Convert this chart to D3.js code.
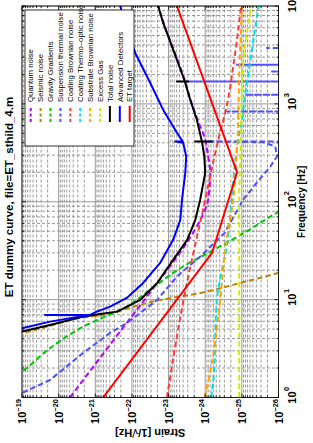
<!DOCTYPE html>
<html><head><meta charset="utf-8">
<script src="https://cdn.jsdelivr.net/npm/d3@7"></script>
<style>body{margin:0;background:#fff}svg{display:block}</style>
</head><body>
<svg id="c" width="313" height="443"></svg>
<script>
// ---- data (frequency [Hz], strain [1/sqrt(Hz)]) ----
const freqTicks = [1, 10, 100, 1000, 10000];
const freqTickExp = ["0", "1", "2", "3", "4"];
const strainTicks = [1e-26, 1e-25, 1e-24, 1e-23, 1e-22, 1e-21, 1e-20, 1e-19];
const strainTickExp = ["\u221226", "\u221225", "\u221224", "\u221223", "\u221222", "\u221221", "\u221220", "\u221219"];

const quantum = [[1,4.9e-21],[5.8,1.38e-22],[10.7,3.9e-23],[20,1.1e-23],[38,3.2e-24],[65,1.37e-24],[105,8.3e-25],[200,7.3e-25],[290,8.3e-25],[430,1.0e-24],[690,1.62e-24],[1100,2.5e-24],[1900,3.9e-24],[3600,7.3e-24],[6750,1.38e-23],[10000,1.9e-23]];
const seismic = [[4.6,8e-20],[5.5,1.4e-20],[6.6,1.9e-21],[6.9,7.4e-22],[8.4,1.0e-22],[9.9,1.7e-23],[11.7,1.37e-24],[14.8,1.1e-25],[18.8,1e-26],[22,2.5e-27]];
const gravity = [[1,1.4e-18],[1.84,1e-19],[3.2,1.7e-20],[5.3,2.1e-21],[8.5,1.38e-22],[12.6,3.2e-23],[21.8,4e-24],[32,6e-25],[50,7.3e-26],[79,1e-26],[100,3e-27]];
const suspension = [[1,1.5e-19],[1.11,1e-19],[1.51,1.72e-20],[2.85,2.15e-21],[4.57,3.94e-22],[5.74,1.38e-22],[9.93,2.05e-23],[17.2,5.93e-24],[27.5,1.37e-24],[47.7,3.0e-25],[105,9.2e-26],[150,4.3e-26],[229,1.67e-26],[290,1.1e-26],[367,1.22e-26],[405,2.6e-26],[413,9e-25],[413,5e-27],[836,5e-27],[836,2.55e-25],[836,5e-27],[1239,5e-27],[1239,8.1e-26],[1239,5e-27],[1694,5e-27],[1694,3.5e-24],[1694,5e-27],[2144,5e-27],[2144,1.5e-26],[2144,5e-27],[2512,5e-27],[2512,1.36e-25],[2512,5e-27],[3721,5e-27],[3721,2.06e-26],[3721,5e-27],[10000,5e-27]];
const coatingBrownian = [[1,1.11e-23],[9.9,3.9e-24],[105,1e-24],[430,4.4e-25],[940,2.6e-25],[2400,1.72e-25],[10000,1.05e-25]];
const coatingThermoOptic = [[1,6.9e-25],[1.58,5.9e-25],[9.9,4.8e-25],[38,2.5e-25],[105,1.9e-25],[268,1.5e-25],[870,9.2e-26],[1640,7.3e-26],[3570,5.3e-26],[10000,3.5e-26]];
const substrateBrownian = [[1,1.03e-24],[2.25,6.6e-25],[7,4.3e-25],[38,2.7e-25],[105,1.72e-25],[340,1.36e-25],[2400,1.16e-25],[10000,9.9e-26]];
const excessGas = [[1,1.18e-25],[105,1.18e-25],[364,1.07e-25],[1640,9.9e-26],[5300,7.3e-26],[10000,5.6e-26]];
const totalNoise = [[4.16,4e-19],[4.71,1e-19],[5.51,1.72e-20],[6.70,2.15e-21],[7.14,7.4e-22],[7.54,2.54e-22],[8.48,1.35e-22],[9.93,5.97e-23],[14.8,2.05e-23],[25.5,7.5e-24],[40.8,3.1e-24],[65,1.87e-24],[105,1.37e-24],[197,1.0e-24],[291,1.06e-24],[413,1.23e-24],[413,1.87e-24],[413,6.6e-25],[413,1.23e-24],[688,1.69e-24],[1102,2.57e-24],[1694,3.6e-24],[1694,5.9e-24],[1694,2.9e-24],[1694,3.6e-24],[1892,4.0e-24],[3573,7.5e-24],[6750,1.41e-23],[10000,1.92e-23]];
const advancedDetectors = [[4.5,4e-19],[5.10,1e-19],[5.96,1.72e-20],[6.81,2.15e-21],[6.98,1.39e-21],[6.98,2.35e-20],[6.98,1.39e-21],[7.54,9.1e-22],[8.48,3.94e-22],[10.4,1.38e-22],[14.8,4.94e-23],[23.7,1.7e-23],[40.8,7.5e-24],[65,4.8e-24],[105,4.3e-24],[197,3.5e-24],[291,3.3e-24],[400,4.0e-24],[413,6.6e-24],[413,4.1e-24],[506,5.9e-24],[871,1.41e-23],[1643,3.18e-23],[2632,5.97e-23],[3325,8.2e-23],[10000,2.1e-22]];
const etTarget = [[1,6.1e-22],[30,6.5e-25],[200,1.35e-25],[10000,5.9e-24]];

const seriesNames = ["Quantum noise","Seismic noise","Gravity Gradients","Suspension thermal noise","Coating Brownian noise","Coating Thermo\u2013optic noise","Substrate Brownian noise","Excess Gas","Total noise","Advanced Detectors","ET target"];
const seriesData = [quantum, seismic, gravity, suspension, coatingBrownian, coatingThermoOptic, substrateBrownian, excessGas, totalNoise, advancedDetectors, etTarget];
const seriesColors = ["#b400ff","#b8860b","#00c800","#5050ff","#ff3c3c","#00e0e0","#ffa500","#ccee00","#000000","#0000ff","#ff0000"];
const seriesDashed = [true,true,true,true,true,true,true,true,false,false,false];
const seriesSmooth = [true,true,true,false,true,true,true,true,false,false,false];

// ---- layout (unrotated frame 443 x 313, then rotated -90deg) ----
const FONT = "'Liberation Sans', Arial, Helvetica, sans-serif";
const svg = d3.select('#c');
svg.append('rect').attr('width',313).attr('height',443).attr('fill','#fff');
const g = svg.append('g').attr('transform','translate(0,443) rotate(-90)');
const P = {l:45.5, r:437, t:22, b:278.5};
const x = d3.scaleLog().domain([1,1e4]).range([P.l, P.r]);
const y = d3.scaleLog().domain([1e-26,1e-19]).range([P.b, P.t]);

g.append('rect').attr('x',P.l).attr('y',P.t).attr('width',P.r-P.l).attr('height',P.b-P.t).attr('fill','#fff');

// grid
const xMinor = x.ticks().filter(v => !freqTicks.includes(v));
const yMinor = y.ticks().filter(v => !strainTicks.some(t => Math.abs(t-v)/t < 1e-6));
const grid = g.append('g');
grid.selectAll('.gxm').data(xMinor).join('line')
  .attr('x1',d=>x(d)).attr('x2',d=>x(d)).attr('y1',P.t).attr('y2',P.b)
  .attr('stroke','#808080').attr('stroke-width',0.8).attr('stroke-dasharray','3,2');
grid.selectAll('.gym').data(yMinor).join('line')
  .attr('y1',d=>y(d)).attr('y2',d=>y(d)).attr('x1',P.l).attr('x2',P.r)
  .attr('stroke','#808080').attr('stroke-width',0.8).attr('stroke-dasharray','3,2');
grid.selectAll('.gx').data(freqTicks).join('line')
  .attr('x1',d=>x(d)).attr('x2',d=>x(d)).attr('y1',P.t).attr('y2',P.b)
  .attr('stroke','#999').attr('stroke-width',1);
grid.selectAll('.gy').data(strainTicks).join('line')
  .attr('y1',d=>y(d)).attr('y2',d=>y(d)).attr('x1',P.l).attr('x2',P.r)
  .attr('stroke','#999').attr('stroke-width',1);

// curves
g.append('clipPath').attr('id','clip').append('rect')
  .attr('x',P.l).attr('y',P.t).attr('width',P.r-P.l).attr('height',P.b-P.t);
const curves = g.append('g').attr('clip-path','url(#clip)');
seriesData.forEach((data,i) => {
  const line = d3.line().x(d=>x(d[0])).y(d=>y(d[1]))
    .curve(seriesSmooth[i] ? d3.curveMonotoneX : d3.curveLinear);
  curves.append('path').datum(data).attr('d',line)
    .attr('fill','none').attr('stroke',seriesColors[i])
    .attr('stroke-width',2).attr('stroke-linejoin','round')
    .attr('stroke-dasharray', seriesDashed[i] ? '5.5,3' : null);
});

// box + ticks (inward, all sides)
g.append('rect').attr('x',P.l).attr('y',P.t).attr('width',P.r-P.l).attr('height',P.b-P.t)
  .attr('fill','none').attr('stroke','#000').attr('stroke-width',0.8);
const tk = g.append('g').attr('stroke','#000').attr('stroke-width',0.8);
function vt(vals,len){vals.forEach(v=>{
  tk.append('line').attr('x1',x(v)).attr('x2',x(v)).attr('y1',P.b).attr('y2',P.b-len);
  tk.append('line').attr('x1',x(v)).attr('x2',x(v)).attr('y1',P.t).attr('y2',P.t+len);});}
function ht(vals,len){vals.forEach(v=>{
  tk.append('line').attr('y1',y(v)).attr('y2',y(v)).attr('x1',P.l).attr('x2',P.l+len);
  tk.append('line').attr('y1',y(v)).attr('y2',y(v)).attr('x1',P.r).attr('x2',P.r-len);});}
vt(freqTicks,4); vt(xMinor,2); ht(strainTicks,4); ht(yMinor,2);

// tick labels
freqTicks.forEach((v,i)=>{
  const t = g.append('text').attr('x',x(v)).attr('y',296).attr('text-anchor','middle')
    .attr('font-family',FONT).attr('font-size',11).attr('font-weight','bold').text('10');
  const w = t.node().getComputedTextLength();
  g.append('text').attr('x',x(v)+w/2+0.5).attr('y',289).attr('font-family',FONT)
    .attr('font-size',7.5).attr('font-weight','bold').text(freqTickExp[i]);
});
strainTicks.forEach((v,i)=>{
  const t = g.append('text').attr('x',44).attr('y',y(v)+4).attr('text-anchor','end')
    .attr('font-family',FONT).attr('font-weight','bold');
  t.append('tspan').attr('font-size',11).text('10');
  t.append('tspan').attr('font-size',7.5).attr('dy',-5).text(strainTickExp[i]);
});

// axis labels & title
g.append('text').attr('x',(P.l+P.r)/2).attr('y',304.5).attr('text-anchor','middle')
  .attr('font-family',FONT).attr('font-size',10).attr('font-weight','bold').text('Frequency [Hz]');
g.append('text').attr('transform',`translate(14.5,${(P.t+P.b)/2}) rotate(-90)`).attr('text-anchor','middle')
  .attr('font-family',FONT).attr('font-size',11).attr('font-weight','bold').text('Strain [1/\u221AHz]');
g.append('text').attr('x',246).attr('y',12.5).attr('text-anchor','middle')
  .attr('font-family',FONT).attr('font-size',11.5).attr('font-weight','bold')
  .text('ET dummy curve, file=ET_sthild_4.m');

// legend
const L = {x0:297, x1:433, y0:25, y1:134};
const lg = g.append('g');
lg.append('rect').attr('x',L.x0).attr('y',L.y0).attr('width',L.x1-L.x0).attr('height',L.y1-L.y0)
  .attr('fill','#fff').attr('stroke','#000').attr('stroke-width',0.8);
seriesNames.forEach((name,i)=>{
  const cy = 30.7 + i*9.9;
  lg.append('line').attr('x1',321).attr('x2',337).attr('y1',cy).attr('y2',cy)
    .attr('stroke',seriesColors[i]).attr('stroke-width',2)
    .attr('stroke-dasharray', seriesDashed[i] ? '3,2.5' : null);
  lg.append('text').attr('x',341).attr('y',cy+2.7).attr('font-family',FONT)
    .attr('font-size',7.8).text(name);
});
</script>
</body></html>
